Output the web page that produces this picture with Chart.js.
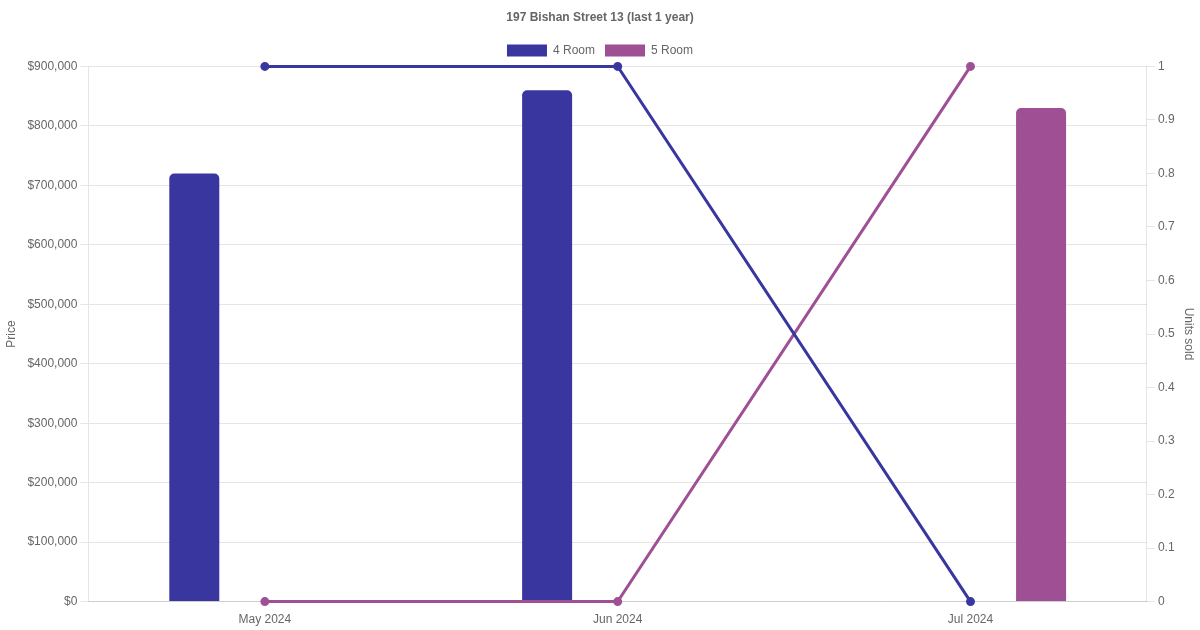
<!DOCTYPE html>
<html>
<head>
<meta charset="utf-8">
<script src="https://cdn.jsdelivr.net/npm/chart.js@4.4.1/dist/chart.umd.min.js"></script>
<style>
html,body{margin:0;padding:0;background:#fff;}
#wrap{width:1200px;height:630px;}
</style>
</head>
<body>
<div id="wrap"><canvas id="c" width="1200" height="630"></canvas></div>
<script>
const months = ["May 2024", "Jun 2024", "Jul 2024"];
const price4Room = [720000, 860000, null];
const price5Room = [null, null, 830000];
const units4Room = [1, 1, 0];
const units5Room = [0, 0, 1];
const color4 = "#3a36a0";
const color5 = "#9f4f94";

new Chart(document.getElementById("c"), {
  data: {
    labels: months,
    datasets: [
      {type: "line", label: "4 Room units", data: units4Room, yAxisID: "y1",
       borderColor: color4, backgroundColor: color4, borderWidth: 3, pointRadius: 3, order: 0, clip: false},
      {type: "line", label: "5 Room units", data: units5Room, yAxisID: "y1",
       borderColor: color5, backgroundColor: color5, borderWidth: 3, pointRadius: 3, order: 0, clip: false},
      {type: "bar", label: "4 Room", data: price4Room, yAxisID: "y",
       backgroundColor: color4, borderColor: color4, borderRadius: 5, maxBarThickness: 50, order: 1},
      {type: "bar", label: "5 Room", data: price5Room, yAxisID: "y",
       backgroundColor: color5, borderColor: color5, borderRadius: 5, maxBarThickness: 50, order: 1}
    ]
  },
  options: {
    responsive: false,
    animation: false,
    plugins: {
      title: {display: true, text: "197 Bishan Street 13 (last 1 year)", color: "#666", font: {size: 12, weight: "bold"}},
      legend: {labels: {color: "#666", filter: (item) => item.text === "4 Room" || item.text === "5 Room"}},
      tooltip: {enabled: false}
    },
    scales: {
      x: {grid: {display: false}, ticks: {color: "#666"}},
      y: {position: "left", beginAtZero: true,
          ticks: {color: "#666", stepSize: 100000,
                  callback: (v) => "$" + Number(v).toLocaleString("en-US")},
          title: {display: true, text: "Price", color: "#666", padding: {top: 4, bottom: 6}}},
      y1: {position: "right", beginAtZero: true, max: 1,
           grid: {drawOnChartArea: false},
           ticks: {color: "#666", stepSize: 0.1, callback: (v) => String(Math.round(v * 10) / 10)},
           title: {display: true, text: "Units sold", color: "#666"}}
    }
  }
});
</script>
</body>
</html>
